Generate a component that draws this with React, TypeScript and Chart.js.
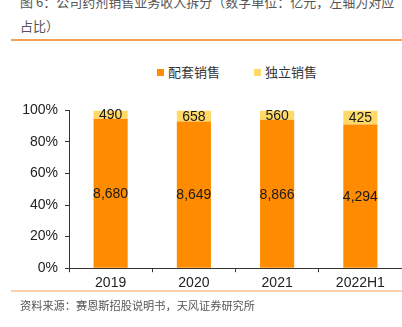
import React, { useEffect, useRef } from 'react';
import { Chart, registerables } from 'chart.js';

Chart.register(...registerables);

const categories = ['2019', '2020', '2021', '2022H1'];
const seriesNames = ['配套销售', '独立销售'];
const bundledSales = [8680, 8649, 8866, 4294];
const standaloneSales = [490, 658, 560, 425];
const yTickValues = [0, 20, 40, 60, 80, 100];
const seriesColors = ['#FF8C00', '#FFD966'];

const titleLine1 = '图 6：公司药剂销售业务收入拆分（数字单位：亿元，左轴为对应';
const titleLine2 = '占比）';
const sourceText = '资料来源：赛恩斯招股说明书，天风证券研究所';

const LATIN = '"Liberation Sans", Arial, sans-serif';
const CJK = '"Noto Sans CJK SC", "Noto Sans", sans-serif';

const totals = categories.map((_, i) => bundledSales[i] + standaloneSales[i]);
const rawSeries = [bundledSales, standaloneSales];

const labelPlugin = {
  id: 'segmentLabels',
  afterDatasetsDraw(chart: any) {
    const ctx = chart.ctx;
    ctx.save();
    ctx.font = `14px ${LATIN}`;
    ctx.fillStyle = '#1a1a1a';
    ctx.textAlign = 'center';
    ctx.textBaseline = 'middle';
    chart.data.datasets.forEach((ds: any, di: number) => {
      const meta = chart.getDatasetMeta(di);
      meta.data.forEach((el: any, i: number) => {
        const p = el.getProps(['x', 'y', 'base'], true);
        const yc = (p.y + p.base) / 2;
        ctx.fillText(rawSeries[di][i].toLocaleString('en-US'), p.x, yc + 1);
      });
    });
    ctx.restore();
  },
};

function BarChart() {
  const ref = useRef<HTMLCanvasElement | null>(null);
  useEffect(() => {
    if (!ref.current) return;
    const chart = new Chart(ref.current, {
      type: 'bar',
      data: {
        labels: categories,
        datasets: rawSeries.map((arr, di) => ({
          label: seriesNames[di],
          data: arr.map((v, i) => (v / totals[i]) * 100),
          backgroundColor: seriesColors[di],
          borderWidth: 0,
          categoryPercentage: 1,
          barPercentage: 0.41,
        })),
      },
      options: {
        animation: false,
        responsive: false,
        maintainAspectRatio: false,
        events: [],
        layout: { padding: { top: 12, bottom: 0, left: 0, right: 0 } },
        plugins: {
          legend: { display: false },
          tooltip: { enabled: false },
        },
        scales: {
          x: {
            stacked: true,
            offset: true,
            grid: {
              offset: true,
              drawOnChartArea: false,
              drawTicks: true,
              tickLength: 4,
              color: '#333',
            },
            border: { color: '#333', width: 1 },
            ticks: { font: { size: 14, family: LATIN }, color: '#222', padding: 3 },
          },
          y: {
            stacked: true,
            min: 0,
            max: 100,
            afterBuildTicks(scale: any) {
              scale.ticks = yTickValues.map((v) => ({ value: v }));
            },
            afterFit(scale: any) {
              scale.width = 69;
            },
            ticks: {
              callback: (v: any) => `${v}%`,
              font: { size: 14, family: LATIN },
              color: '#222',
              padding: 7,
            },
            grid: { drawOnChartArea: false, tickLength: 4, color: '#333' },
            border: { color: '#333', width: 1 },
          },
        },
      },
      plugins: [labelPlugin],
    });
    return () => chart.destroy();
  }, []);
  return <canvas ref={ref} width={402} height={200} style={{ position: 'absolute', left: 0, top: 95, width: 402, height: 200 }} />;
}

const titleStyle: React.CSSProperties = {
  position: 'absolute',
  left: 20,
  fontSize: 13,
  lineHeight: '20px',
  height: 20,
  color: '#555',
  whiteSpace: 'nowrap',
};

export default function App() {
  return (
    <div
      style={{
        position: 'absolute',
        left: 0,
        top: 0,
        width: 402,
        height: 327,
        overflow: 'hidden',
        background: '#fff',
        fontFamily: CJK,
      }}
    >
      <div style={{ ...titleStyle, top: -8 }}>{titleLine1}</div>
      <div style={{ ...titleStyle, top: 16 }}>{titleLine2}</div>
      <div style={{ position: 'absolute', left: 11, top: 39, width: 391, height: 1.5, background: '#F5A052' }} />
      <div
        style={{
          position: 'absolute',
          top: 63,
          left: 157,
          display: 'flex',
          fontSize: 13,
          lineHeight: '18px',
          color: '#333',
        }}
      >
        {seriesNames.map((n, i) => (
          <div key={n} style={{ display: 'flex', alignItems: 'center', marginLeft: i === 0 ? 0 : 34 }}>
            <span style={{ display: 'inline-block', width: 7, height: 7, background: seriesColors[i], marginRight: 4 }} />
            <span>{n}</span>
          </div>
        ))}
      </div>
      <BarChart />
      <div style={{ position: 'absolute', left: 11, top: 290, width: 391, height: 1.5, background: '#FAD0AE' }} />
      <div
        style={{
          position: 'absolute',
          left: 20,
          top: 296,
          fontSize: 11.2,
          lineHeight: '18px',
          color: '#555',
          whiteSpace: 'nowrap',
        }}
      >
        {sourceText}
      </div>
    </div>
  );
}
